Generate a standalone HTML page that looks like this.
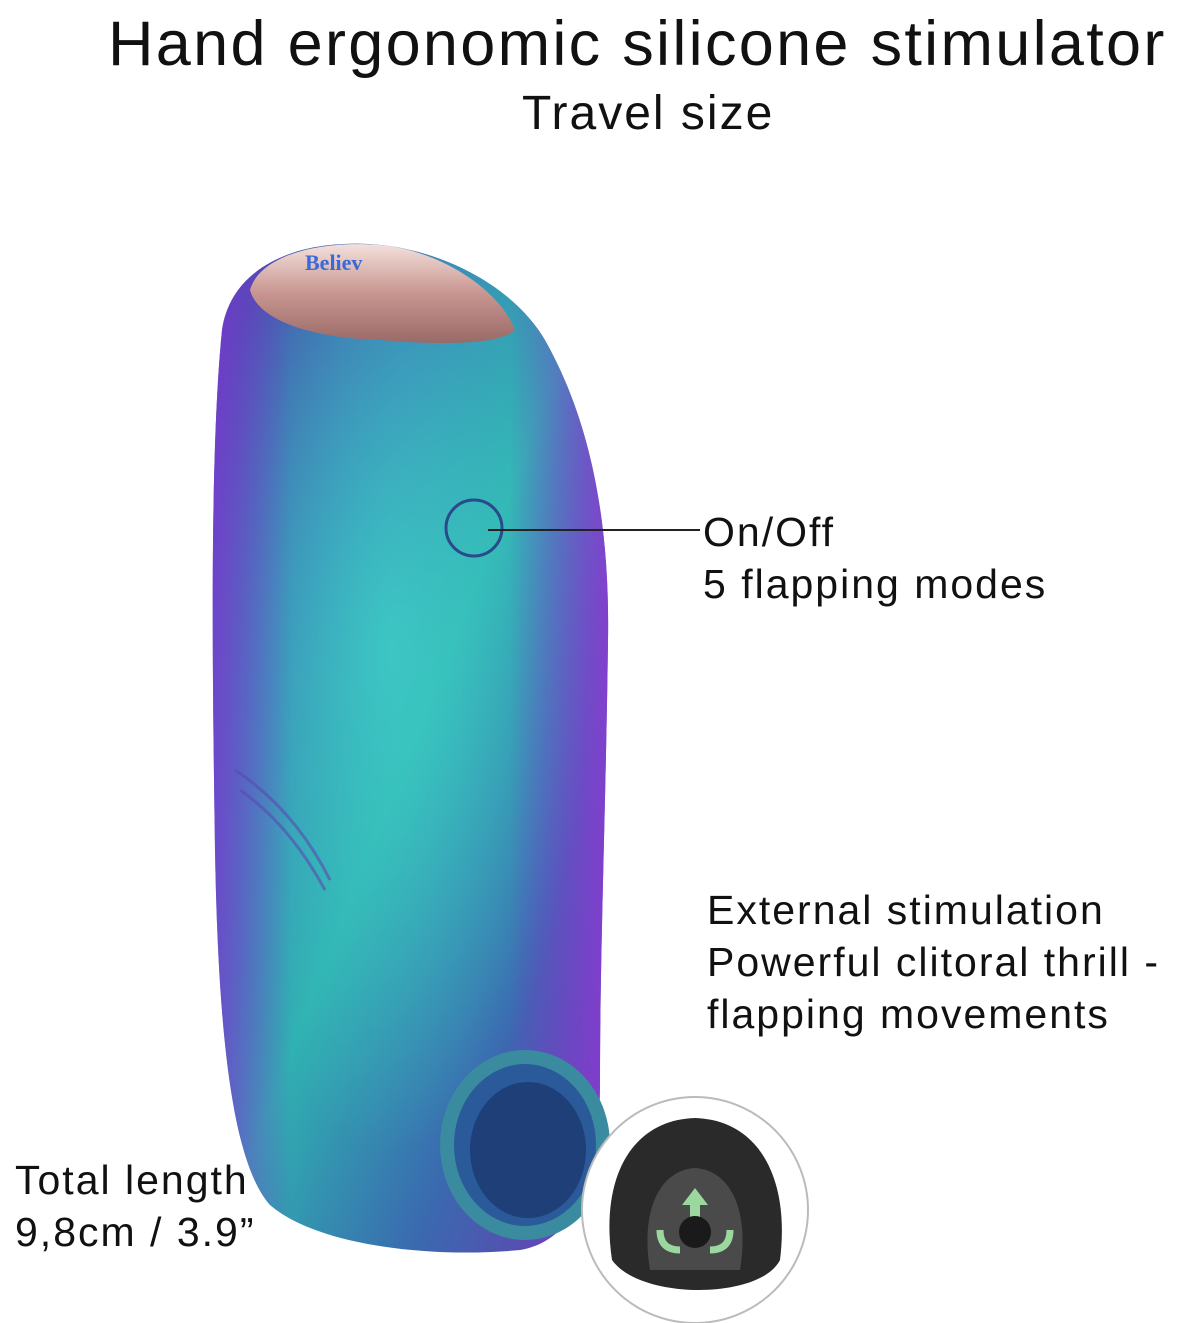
<!DOCTYPE html>
<html><head><meta charset="utf-8"><style>
html,body{margin:0;padding:0;background:#fff;}
body{width:1200px;height:1323px;position:relative;overflow:hidden;font-family:"Liberation Sans","DejaVu Sans",sans-serif;color:#111;}
.t{position:absolute;white-space:nowrap;}
.s{font-size:41px;line-height:52px;letter-spacing:2px;}
</style></head><body>
<div class="t" style="left:108px;top:8px;font-size:63px;letter-spacing:2.3px;">Hand ergonomic silicone stimulator</div>
<div class="t" style="left:522px;top:86px;font-size:48px;letter-spacing:2px;">Travel size</div>
<div class="t s" style="left:703px;top:506px;">On/Off<br>5 flapping modes</div>
<div class="t s" style="left:707px;top:884px;">External stimulation<br>Powerful clitoral thrill -<br>flapping movements</div>
<div class="t s" style="left:15px;top:1154px;">Total length<br>9,8cm / 3.9”</div>
<svg width="1200" height="1323" style="position:absolute;left:0;top:0">
<defs>
<linearGradient id="bg" x1="0" y1="0" x2="1" y2="1">
<stop offset="0" stop-color="#4a3fa8"/><stop offset="0.3" stop-color="#3a7fb5"/>
<stop offset="0.5" stop-color="#2fb0b0"/><stop offset="0.75" stop-color="#3a6ab0"/>
<stop offset="1" stop-color="#6a3ab0"/></linearGradient>
<radialGradient id="gl" cx="0.45" cy="0.4" r="0.5"><stop offset="0" stop-color="#3fd0c8" stop-opacity="0.8"/><stop offset="1" stop-color="#3fd0c8" stop-opacity="0"/></radialGradient>
<linearGradient id="edge" x1="0" x2="1"><stop offset="0" stop-color="#7a3ad0" stop-opacity="0.8"/><stop offset="0.2" stop-color="#7a3ad0" stop-opacity="0"/><stop offset="0.75" stop-color="#7a3ad0" stop-opacity="0"/><stop offset="1" stop-color="#8a3ad0" stop-opacity="0.9"/></linearGradient>
<linearGradient id="cap" x1="0" y1="0" x2="0" y2="1"><stop offset="0" stop-color="#f4e0dc"/><stop offset="0.5" stop-color="#c89590"/><stop offset="1" stop-color="#9a6a68"/></linearGradient>
</defs>
<g id="b">
<path d="M330 245 C420 235 510 280 545 340 C590 420 610 520 608 640 C606 800 600 950 600 1080 C600 1170 580 1240 520 1250 C440 1258 320 1248 270 1205 C230 1160 218 1020 215 850 C212 650 210 450 222 330 C230 275 280 250 330 245 Z" fill="url(#bg)"/>
<path d="M330 245 C420 235 510 280 545 340 C590 420 610 520 608 640 C606 800 600 950 600 1080 C600 1170 580 1240 520 1250 C440 1258 320 1248 270 1205 C230 1160 218 1020 215 850 C212 650 210 450 222 330 C230 275 280 250 330 245 Z" fill="url(#gl)"/>
<path d="M330 245 C420 235 510 280 545 340 C590 420 610 520 608 640 C606 800 600 950 600 1080 C600 1170 580 1240 520 1250 C440 1258 320 1248 270 1205 C230 1160 218 1020 215 850 C212 650 210 450 222 330 C230 275 280 250 330 245 Z" fill="url(#edge)"/>
</g>
<path d="M250 290 C260 255 320 240 380 245 C440 250 500 290 515 330 C500 345 440 345 380 340 C310 338 258 320 250 290 Z" fill="url(#cap)"/>
<text x="305" y="270" font-family="Liberation Serif,serif" font-weight="bold" font-size="22" fill="#3a6ad8">Believ</text>
<path d="M235 770 q60 40 95 110 M240 790 q50 35 85 100" stroke="#5a4ab0" stroke-width="3" fill="none" opacity="0.6"/>
<circle cx="474" cy="528" r="28" fill="none" stroke="#2a4a8a" stroke-width="3"/>
<line x1="488" y1="530" x2="700" y2="530" stroke="#222" stroke-width="2"/>
<ellipse cx="525" cy="1145" rx="78" ry="88" fill="#2a5a9a" stroke="#3a8aa0" stroke-width="14"/>
<ellipse cx="528" cy="1150" rx="58" ry="68" fill="#1e3f78"/>
<circle cx="695" cy="1210" r="113" fill="#fff" stroke="#bbb" stroke-width="2"/>
<path d="M612 1260 C600 1180 630 1120 695 1118 C760 1120 790 1180 780 1260 C760 1300 640 1300 612 1260 Z" fill="#2a2a2a"/>
<path d="M650 1270 C640 1210 660 1170 695 1168 C730 1170 750 1210 740 1270 Z" fill="#4a4a4a"/>
<path d="M695 1188 L682 1205 H690 V1222 H700 V1205 H708 Z" fill="#9ad8a0"/>
<circle cx="695" cy="1232" r="16" fill="#1a1a1a"/>
<path d="M660 1230 q0 20 20 20" stroke="#9ad8a0" stroke-width="7" fill="none"/>
<path d="M730 1230 q0 20 -20 20" stroke="#9ad8a0" stroke-width="7" fill="none"/>
</svg>
</body></html>
